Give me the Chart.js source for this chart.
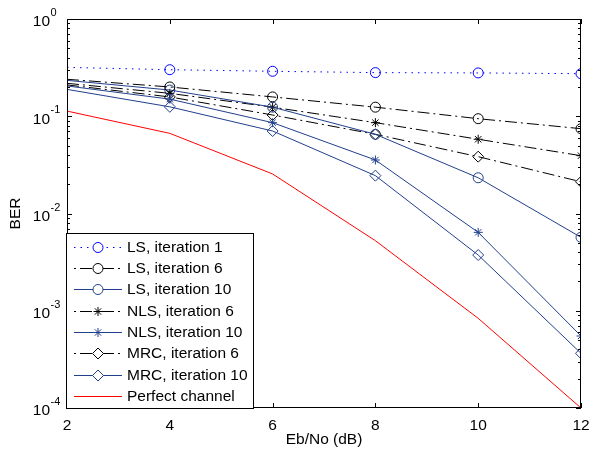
<!DOCTYPE html>
<html><head><meta charset="utf-8">
<script src="https://cdn.jsdelivr.net/npm/chart.js@4.4.0/dist/chart.umd.min.js"></script>
<style>html,body{margin:0;padding:0;background:#fff}canvas{display:block}</style>
</head><body>
<canvas id="c" width="598" height="449"></canvas>
<script>
// ---- data ----
const ebno    = [2, 4, 6, 8, 10, 12];
const ls1     = [0.318, 0.301, 0.290, 0.281, 0.279, 0.274];
const ls6     = [0.240, 0.200, 0.158, 0.124, 0.0944, 0.0745];
const ls10    = [0.234, 0.186, 0.124, 0.0652, 0.0233, 0.00569];
const nls6    = [0.218, 0.172, 0.124, 0.0859, 0.058, 0.0393];
const nls10   = [0.205, 0.150, 0.0859, 0.0355, 0.0064, 0.00055];
const mrc6    = [0.210, 0.158, 0.103, 0.0652, 0.0384, 0.0212];
const mrc10   = [0.189, 0.125, 0.0705, 0.0245, 0.00374, 0.000365];
const perfect = [0.113, 0.0667, 0.0255, 0.00525, 0.000836, 0.0001];
const xTicks = [2, 4, 6, 8, 10, 12];
const yTickExps = [0, -1, -2, -3, -4];
const labels = ['LS, iteration 1','LS, iteration 6','LS, iteration 10','NLS, iteration 6','NLS, iteration 10','MRC, iteration 6','MRC, iteration 10','Perfect channel'];
const xTitle = 'Eb/No (dB)';
const yTitle = 'BER';

const FONT = "'Liberation Sans', Arial, Helvetica, sans-serif";
const FS = 15.5;
const BLUE = '#0000ff', NAVY = '#203f8c', BLACK = '#000000', RED = '#ff0000';
const DOT = [1.5, 5], DASHDOT = [12, 4, 2, 4], SOLID = [];

function ds(label, data, color, dash, style, r) {
  // no marker drawn on the first point (x = 2), as in the original figure
  const radii = ebno.map((x, i) => (style && i > 0) ? r : 0);
  return {
    label, data: ebno.map((x, i) => ({x, y: data[i]})),
    borderColor: color, borderWidth: 1, borderDash: dash,
    pointStyle: style || 'circle', pointRadius: radii, pointHoverRadius: radii,
    legendRadius: style ? r : 0,
    pointBorderColor: color, pointBackgroundColor: 'rgba(0,0,0,0)', pointBorderWidth: 1,
    fill: false, tension: 0
  };
}

const datasets = [
  ds(labels[0], ls1, BLUE, DOT, 'circle', 5),
  ds(labels[1], ls6, BLACK, DASHDOT, 'circle', 5),
  ds(labels[2], ls10, NAVY, SOLID, 'circle', 5),
  ds(labels[3], nls6, BLACK, DASHDOT, 'star', 4.5),
  ds(labels[4], nls10, NAVY, SOLID, 'star', 4.5),
  ds(labels[5], mrc6, BLACK, DASHDOT, 'rectRot', 5.5),
  ds(labels[6], mrc10, NAVY, SOLID, 'rectRot', 5.5),
  ds(labels[7], perfect, RED, SOLID, null, 0)
];

const decor = {
  id: 'decor',
  afterDraw(chart) {
    const ctx = chart.ctx, ca = chart.chartArea;
    const xs = chart.scales.x, ys = chart.scales.y;
    ctx.save();
    ctx.strokeStyle = '#000'; ctx.lineWidth = 1; ctx.setLineDash([]);
    ctx.strokeRect(ca.left + 0.5, ca.top + 0.5, ca.right - ca.left - 1, ca.bottom - ca.top - 1);
    ctx.beginPath();
    xTicks.forEach(v => {
      const px = Math.round(xs.getPixelForValue(v)) + 0.5;
      ctx.moveTo(px, ca.bottom); ctx.lineTo(px, ca.bottom - 5);
      ctx.moveTo(px, ca.top); ctx.lineTo(px, ca.top + 5);
    });
    yTickExps.forEach(e => {
      const py = Math.round(ys.getPixelForValue(Math.pow(10, e))) + 0.5;
      ctx.moveTo(ca.left, py); ctx.lineTo(ca.left + 5, py);
      ctx.moveTo(ca.right, py); ctx.lineTo(ca.right - 5, py);
      if (e < 0) {
        for (let m = 2; m <= 9; m++) {
          const q = Math.round(ys.getPixelForValue(m * Math.pow(10, e))) + 0.5;
          ctx.moveTo(ca.left, q); ctx.lineTo(ca.left + 3, q);
          ctx.moveTo(ca.right, q); ctx.lineTo(ca.right - 3, q);
        }
      }
    });
    ctx.stroke();
    ctx.fillStyle = '#000';
    yTickExps.forEach(e => {
      const py = ys.getPixelForValue(Math.pow(10, e));
      ctx.font = FS + 'px ' + FONT; ctx.textAlign = 'right'; ctx.textBaseline = 'middle';
      ctx.fillText('10', 50, py + 3);
      ctx.font = '11px ' + FONT; ctx.textAlign = 'left';
      ctx.fillText(String(e), 50.5, py - 6);
    });
    ctx.font = FS + 'px ' + FONT; ctx.textAlign = 'center'; ctx.textBaseline = 'middle';
    ctx.fillText(xTitle, (ca.left + ca.right) / 2, 440);
    ctx.save();
    ctx.translate(15.5, (ca.top + ca.bottom) / 2);
    ctx.rotate(-Math.PI / 2);
    ctx.fillText(yTitle, 0, 0);
    ctx.restore();
    // legend
    const lx = ca.left - 0.5, ly = 233.5, lw = 187, lh = ca.bottom - 233.5 + 0.5;
    ctx.fillStyle = '#fff';
    ctx.fillRect(lx, ly, lw, lh);
    ctx.strokeStyle = '#000'; ctx.lineWidth = 1;
    ctx.strokeRect(lx, ly, lw, lh);
    const helpers = Chart.helpers;
    chart.data.datasets.forEach((d, i) => {
      const ry = Math.round(246.7 + 21.3 * i) + 0.5;
      ctx.save();
      ctx.strokeStyle = d.borderColor; ctx.lineWidth = 1;
      ctx.setLineDash(d.borderDash || []);
      if (d.borderDash === DASHDOT) ctx.lineDashOffset = 16;
      ctx.beginPath(); ctx.moveTo(74, ry); ctx.lineTo(122, ry); ctx.stroke();
      ctx.setLineDash([]);
      if (d.legendRadius > 0) {
        ctx.fillStyle = '#fff';
        ctx.strokeStyle = d.pointBorderColor;
        ctx.lineWidth = 1;
        helpers.drawPoint(ctx, {pointStyle: d.pointStyle, radius: d.legendRadius, borderWidth: 1, rotation: 0}, 98, ry);
      }
      ctx.restore();
      ctx.fillStyle = '#000'; ctx.font = FS + 'px ' + FONT; ctx.textAlign = 'left'; ctx.textBaseline = 'middle';
      ctx.fillText(d.label, 127, ry + 0.5);
    });
    ctx.restore();
  }
};

new Chart(document.getElementById('c'), {
  type: 'line',
  data: { datasets },
  options: {
    responsive: false, animation: false, devicePixelRatio: 1,
    layout: { padding: { top: 19, right: 17, left: 0, bottom: 0 } },
    plugins: { legend: { display: false }, tooltip: { enabled: false }, title: { display: false } },
    scales: {
      x: {
        type: 'linear', min: 2, max: 12,
        grid: { display: false, drawTicks: false }, border: { display: false },
        ticks: { stepSize: 2, color: '#000', font: { size: FS, family: FONT }, padding: 8, maxRotation: 0 },
        afterBuildTicks: s => { s.ticks = xTicks.map(v => ({value: v})); },
        afterFit: s => { s.height = 41; }
      },
      y: {
        type: 'logarithmic', min: 1e-4, max: 1,
        grid: { display: false, drawTicks: false }, border: { display: false },
        ticks: { display: false },
        afterFit: s => { s.width = 67; }
      }
    }
  },
  plugins: [decor]
});
</script>
</body></html>
